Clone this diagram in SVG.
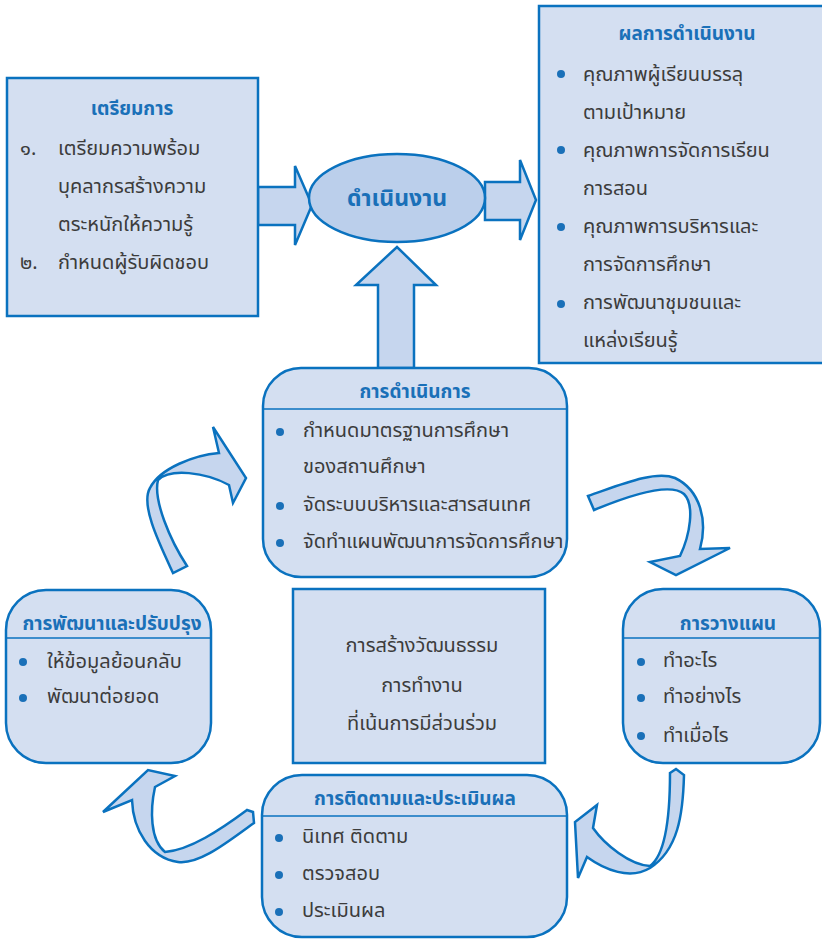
<svg xmlns="http://www.w3.org/2000/svg" width="822" height="939" viewBox="0 0 822 939">
<style>
.box{fill:#D4DFF1;stroke:#0A72BF;stroke-width:2.5}
.arr{fill:#C6D6EE;stroke:#0A72BF;stroke-width:2.5;stroke-linejoin:miter}
.div{stroke:#0A72BF;stroke-width:1.5}
.t{font-family:"Noto Sans Thai","Noto Sans","DejaVu Sans",sans-serif;font-weight:bold;fill:#1A70B8;font-size:19px;text-anchor:middle}
.b{font-family:"Noto Sans Thai","Noto Sans","DejaVu Sans",sans-serif;fill:#3C3C3C;font-size:20px}
.c{font-family:"Noto Sans Thai","Noto Sans","DejaVu Sans",sans-serif;fill:#3C3C3C;font-size:20px;text-anchor:middle}
.dot{fill:#1A70B8}
</style>
<rect width="822" height="939" fill="#FFFFFF"/>
<g id="connectors">
<path class="arr" d="M258,187 L295,187 L295,166 L312,205 L295,245 L295,225 L258,225 Z"/>
<path class="arr" d="M485,182 L520,182 L520,160 L536,200 L520,240 L520,220 L485,220 Z"/>
<path class="arr" d="M378,368 L378,285 L356,285 L397,247 L436,285 L414,285 L414,368 Z"/>
<path class="arr" d="M173,573 C160,545 140,505 150,488 C160,468 195,455 219,453 L213,427 L246,478 L233,503 L229,485 C205,472 170,468 158,480 C153,500 170,540 187,566 Z"/>
<path class="arr" d="M588,496 C620,485 655,470 675,478 C700,490 708,520 700,549 L730,548 L676,575 L650,562 L680,556 C690,535 695,505 684,494 C670,482 630,495 594,510 Z"/>
<path class="arr" d="M670,773 L676,769 L684,775 C683,815 678,850 650,868 C630,880 605,870 587,857 L578,878 L575,822 L597,805 L593,828 C605,845 630,865 650,866 C665,855 670,820 670,773 Z"/>
<path class="arr" d="M247,810 L253,812 L254,823 C230,840 200,865 178,862 C150,858 133,830 132,800 L103,812 L148,770 L175,776 L155,787 C150,810 150,840 165,852 C190,850 220,830 247,810 Z"/>
</g>
<g id="prep">
<rect class="box" x="7" y="78" width="251" height="238"/>
<text class="t" x="132" y="115">เตรียมการ</text>
<text class="b" x="20" y="155">๑.</text>
<text class="b" x="58" y="155">เตรียมความพร้อม</text>
<text class="b" x="58" y="193">บุคลากรสร้างความ</text>
<text class="b" x="58" y="231">ตระหนักให้ความรู้</text>
<text class="b" x="20" y="269">๒.</text>
<text class="b" x="58" y="269">กำหนดผู้รับผิดชอบ</text>
</g>
<g id="operate">
<ellipse cx="397" cy="198" rx="88" ry="44" fill="#BBCFEB" stroke="#0A72BF" stroke-width="2.5"/>
<text class="t" x="397" y="206" style="font-size:23px">ดำเนินงาน</text>
</g>
<g id="results">
<rect class="box" x="539" y="6" width="295" height="357"/>
<text class="t" x="687" y="40">ผลการดำเนินงาน</text>
<circle class="dot" cx="561" cy="74" r="4"/>
<circle class="dot" cx="561" cy="150" r="4"/>
<circle class="dot" cx="561" cy="227" r="4"/>
<circle class="dot" cx="561" cy="304" r="4"/>
<text class="b" x="583" y="81">คุณภาพผู้เรียนบรรลุ</text>
<text class="b" x="583" y="119">ตามเป้าหมาย</text>
<text class="b" x="583" y="157">คุณภาพการจัดการเรียน</text>
<text class="b" x="583" y="195">การสอน</text>
<text class="b" x="583" y="233">คุณภาพการบริหารและ</text>
<text class="b" x="583" y="271">การจัดการศึกษา</text>
<text class="b" x="583" y="309">การพัฒนาชุมชนและ</text>
<text class="b" x="583" y="347">แหล่งเรียนรู้</text>
</g>
<g id="implement">
<rect class="box" x="263" y="368" width="304" height="209" rx="38" ry="38"/>
<line class="div" x1="264" y1="409" x2="566" y2="409"/>
<text class="t" x="415" y="398">การดำเนินการ</text>
<circle class="dot" cx="280" cy="432" r="4"/>
<circle class="dot" cx="280" cy="506" r="4"/>
<circle class="dot" cx="280" cy="543" r="4"/>
<text class="b" x="303" y="437">กำหนดมาตรฐานการศึกษา</text>
<text class="b" x="303" y="473">ของสถานศึกษา</text>
<text class="b" x="303" y="511">จัดระบบบริหารและสารสนเทศ</text>
<text class="b" x="303" y="548">จัดทำแผนพัฒนาการจัดการศึกษา</text>
</g>
<g id="improve">
<rect class="box" x="6" y="590" width="205" height="173" rx="40" ry="40"/>
<line class="div" x1="7" y1="638" x2="210" y2="638"/>
<text class="t" x="112" y="630">การพัฒนาและปรับปรุง</text>
<circle class="dot" cx="23" cy="662" r="4"/>
<circle class="dot" cx="23" cy="698" r="4"/>
<text class="b" x="47" y="668">ให้ข้อมูลย้อนกลับ</text>
<text class="b" x="47" y="703">พัฒนาต่อยอด</text>
</g>
<g id="culture">
<rect class="box" x="293" y="589" width="252" height="174"/>
<text class="c" x="422" y="652">การสร้างวัฒนธรรม</text>
<text class="c" x="422" y="692">การทำงาน</text>
<text class="c" x="422" y="730">ที่เน้นการมีส่วนร่วม</text>
</g>
<g id="plan">
<rect class="box" x="623" y="589" width="197" height="174" rx="40" ry="40"/>
<line class="div" x1="624" y1="638" x2="819" y2="638"/>
<text class="t" x="728" y="630">การวางแผน</text>
<circle class="dot" cx="641" cy="662" r="4"/>
<circle class="dot" cx="641" cy="698" r="4"/>
<circle class="dot" cx="641" cy="736" r="4"/>
<text class="b" x="663" y="667">ทำอะไร</text>
<text class="b" x="663" y="703">ทำอย่างไร</text>
<text class="b" x="663" y="742">ทำเมื่อไร</text>
</g>
<g id="monitor">
<rect class="box" x="262" y="775" width="305" height="162" rx="40" ry="40"/>
<line class="div" x1="263" y1="816" x2="566" y2="816"/>
<text class="t" x="415" y="805">การติดตามและประเมินผล</text>
<circle class="dot" cx="279" cy="838" r="4"/>
<circle class="dot" cx="279" cy="875" r="4"/>
<circle class="dot" cx="279" cy="912" r="4"/>
<text class="b" x="302" y="843">นิเทศ ติดตาม</text>
<text class="b" x="302" y="880">ตรวจสอบ</text>
<text class="b" x="302" y="917">ประเมินผล</text>
</g>
</svg>
